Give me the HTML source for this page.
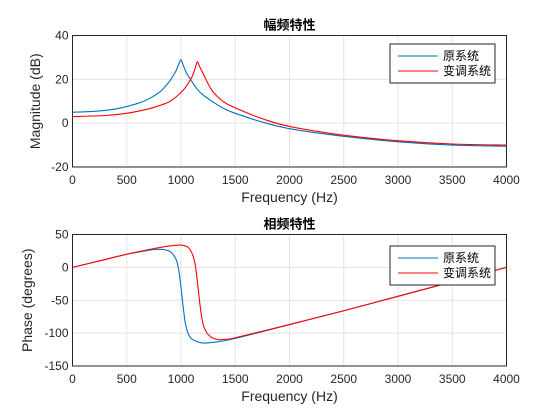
<!DOCTYPE html>
<html><head><meta charset="utf-8"><style>
body{margin:0;background:#fff}
svg{display:block;font-family:"Liberation Sans","Noto Sans CJK SC",sans-serif}
</style></head><body>
<svg id="c" width="560" height="420"></svg>
<script>
const freqMagBlue=[0,200,400,600,700,800,850,900,950,980,1000,1020,1050,1100,1150,1200,1300,1400,1500,1750,2000,2500,3000,3500,4000];
const magBlue=[5,5.4,6.5,9,11,14,16.5,19.5,23.5,27,29,26.5,23,19,15.5,13,9.5,6.5,4.5,0.5,-2.5,-6,-8.5,-10,-10.5];
const freqMagRed=[0,300,500,700,800,900,1000,1050,1100,1130,1150,1170,1200,1250,1300,1400,1500,1750,2000,2500,3000,3500,4000];
const magRed=[3,3.5,4.5,6.5,8,10,14,17,21,25,28,26,23,18,14,9.5,7,2,-1.5,-5.5,-8,-9.5,-10];
const freqPhBlue=[0,250,500,650,750,800,850,900,930,960,980,1000,1020,1040,1060,1080,1100,1150,1200,1300,1500,2000,2500,3000,3500,4000];
const phBlue=[0,10,20,24.5,27,27.5,27,24,19,10,-5,-30,-60,-85,-98,-105,-109,-113,-115,-114,-108,-87,-66,-44,-22,0];
const freqPhRed=[0,250,500,700,850,950,1000,1050,1080,1110,1130,1150,1170,1190,1210,1240,1270,1300,1350,1400,1500,2000,2500,3000,3500,4000];
const phRed=[0,10,20,27,31.5,33.5,34,32,28,18,5,-20,-50,-75,-90,-100,-105,-108,-110,-109.5,-107,-87,-66,-44,-22,0];
const xTicks=[0,500,1000,1500,2000,2500,3000,3500,4000];
const magTicks=[-20,0,20,40];
const phTicks=[-150,-100,-50,0,50];
const NS="http://www.w3.org/2000/svg";
const svg=document.getElementById('c');
function el(t,a,p){const e=document.createElementNS(NS,t);for(const k in a)e.setAttribute(k,a[k]);(p||svg).appendChild(e);return e;}
function smooth(pts){
 let d='M'+pts[0][0]+','+pts[0][1];
 for(let i=0;i<pts.length-1;i++){
  const p0=pts[Math.max(0,i-1)],p1=pts[i],p2=pts[i+1],p3=pts[Math.min(pts.length-1,i+2)];
  const c1x=p1[0]+(p2[0]-p0[0])/6,c1y=p1[1]+(p2[1]-p0[1])/6;
  const c2x=p2[0]-(p3[0]-p1[0])/6,c2y=p2[1]-(p3[1]-p1[1])/6;
  d+=` C${c1x},${c1y} ${c2x},${c2y} ${p2[0]},${p2[1]}`;
 }
 return d;
}
function panel(cfg){
 const L=72.5,R=506.5,T=cfg.top,B=cfg.bot;
 const xs=v=>L+(v/4000)*(R-L);
 const ys=v=>B-(v-cfg.ymin)/(cfg.ymax-cfg.ymin)*(B-T);
 const g=el('g',{});
 
 
 xTicks.forEach(t=>{const l=el('line',{x1:xs(t),x2:xs(t),y1:T,y2:B,stroke:'#e3e3e3','stroke-width':1},g);
  const tx=el('text',{x:xs(t),y:B+17,'font-size':12,'text-anchor':'middle',fill:'#262626'},g);tx.textContent=t;});
 cfg.ticks.forEach(t=>{const l=el('line',{x1:L,x2:R,y1:ys(t),y2:ys(t),stroke:'#e3e3e3','stroke-width':1},g);
  const tx=el('text',{x:L-4,y:ys(t)+4,'font-size':12,'text-anchor':'end',fill:'#262626'},g);tx.textContent=t;});
 const fr=el('rect',{x:L,y:T,width:R-L,height:B-T,fill:'none',stroke:'#262626','stroke-width':1},g);
 [[cfg.fb,cfg.vb,'#0072bd','series-original'],[cfg.fr,cfg.vr,'#ff0000','series-modified']].forEach(s=>{
  const pts=s[0].map((f,i)=>[xs(f),ys(s[1][i])]);
  const p=el('path',{d:smooth(pts),fill:'none',stroke:s[2],'stroke-width':1.1,'stroke-linejoin':'round'},g);
  });
 const ti=el('text',{x:(L+R)/2,y:T-6,'font-size':13,'font-weight':'bold','text-anchor':'middle',fill:'#000'},g);ti.textContent=cfg.title;
 const xl=el('text',{x:(L+R)/2,y:B+35,'font-size':14,'text-anchor':'middle',fill:'#262626'},g);xl.textContent='Frequency (Hz)';
 const yl=el('text',{x:0,y:0,'font-size':14,'text-anchor':'middle',fill:'#262626',transform:`translate(${cfg.ylx},${(T+B)/2}) rotate(-90)`},g);yl.textContent=cfg.ylabel;
 const lg=el('g',{},g);
 el('rect',{x:390,y:cfg.lt,width:105,height:39,fill:'#fff',stroke:'#262626','stroke-width':1},lg);
 [['原系统','#0072bd'],['变调系统','#ff0000']].forEach((e,i)=>{const yy=cfg.lt+12+i*15;
  el('line',{x1:398,x2:438,y1:yy,y2:yy,stroke:e[1],'stroke-width':1.1},lg);
  const t=el('text',{x:443,y:yy+4,'font-size':12,fill:'#000'},lg);t.textContent=e[0];});
}
panel({name:'magnitude-panel',top:35.5,bot:167,ymin:-20,ymax:40,ticks:magTicks,fb:freqMagBlue,vb:magBlue,fr:freqMagRed,vr:magRed,title:'幅频特性',ylabel:'Magnitude (dB)',ylx:40,lt:44});
panel({name:'phase-panel',top:234.5,bot:366,ymin:-150,ymax:50,ticks:phTicks,fb:freqPhBlue,vb:phBlue,fr:freqPhRed,vr:phRed,title:'相频特性',ylabel:'Phase (degrees)',ylx:32,lt:246});
</script>
</body></html>
